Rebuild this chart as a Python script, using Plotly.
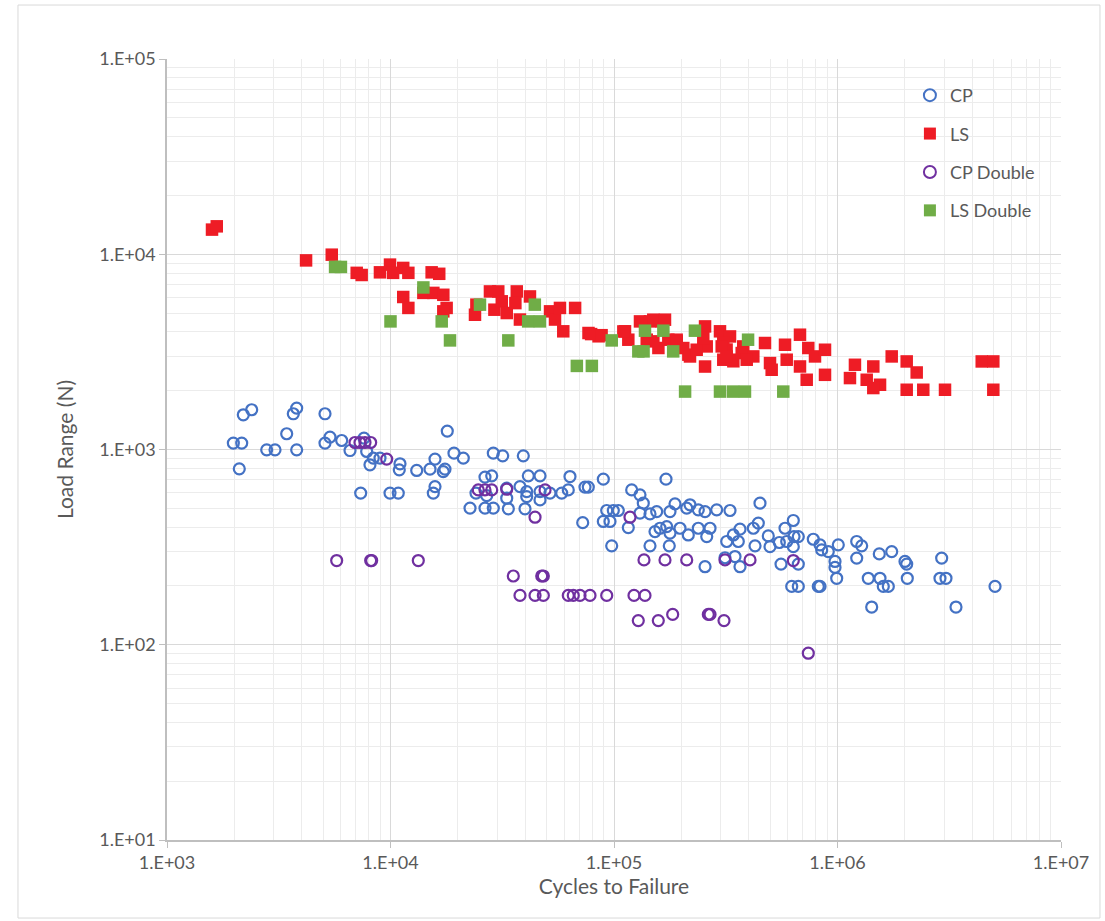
import plotly.graph_objects as go

# ---------------- data ----------------
cp_cycles = [1981, 2159, 2195, 2393, 2106, 2793, 3043, 3432, 3804, 3674, 3804, 5092, 5092, 5362,
             6048, 6590, 7609, 7824, 8094, 8375, 8974, 11027, 10948, 13100, 15023, 15817, 17528,
             17224, 17949, 19233, 21173, 28840, 7356, 9949, 10835, 15817, 15542, 22690, 24130,
             26471, 28840, 26471, 28373, 26938,
             31770, 39283, 41362, 46672, 63538, 89577, 170870, 33115, 37967, 40683, 46672, 51720,
             58345, 62436, 74170, 76740, 120000, 130700, 135230, 33670, 39977, 46672, 33115, 40683,
             92770, 99290, 104520, 89577, 95960, 72444, 115870, 97660, 130700, 144900, 155240,
             178050, 187450, 211500, 218780, 238340, 255430, 288070, 330390, 152560, 160620,
             172100, 197370, 178050, 215000, 238340, 268920, 259960, 144900, 176750, 319370,
             341830, 366240, 359890, 420150, 427550, 442320, 255430, 313780, 347860, 366240,
             450000, 490180, 498900, 549140, 582350, 634260, 638940, 667830, 634260, 592640,
             558830, 667830, 623960, 667830, 779230, 835000, 849730, 909560, 1008300, 974550,
             974550, 991800, 820460, 835000, 1218800, 1282900, 1218800, 1373100, 1549400,
             1602800, 1688000, 1538100, 1748100, 2004600, 2040000, 2052700, 2924700, 2874000,
             3057600, 5068000, 1422200, 3389500]
cp_load = [1079, 1079, 1506, 1598, 796, 996, 996, 1204, 996, 1524, 1630, 1524, 1079, 1158,
           1112, 988, 1144, 977, 835, 904, 904, 845, 787, 781, 793, 893, 793,
           771, 1243, 958, 904, 958, 598, 598, 598, 646, 598, 501, 598,
           501, 501, 722, 733, 580,
           928, 928, 733, 733, 727, 705, 705, 634, 646, 609, 609, 598,
           598, 621, 642, 642, 621, 586, 531, 497, 497, 552, 563, 574,
           487, 487, 487, 428, 428, 422, 398, 321, 472, 468, 481,
           481, 527, 501, 521, 491, 481, 491, 487, 380, 395,
           403, 395, 373, 365, 395, 395, 358, 321, 321, 338,
           365, 391, 338, 395, 321, 420, 251, 279, 283, 251,
           531, 361, 318, 334, 395, 433, 358, 358, 318, 338,
           259, 259, 199, 199, 347, 325, 306, 300, 325, 267,
           249, 219, 199, 199, 338, 321, 278, 219, 219,
           199, 199, 292, 300, 267, 259, 219, 278, 219,
           219, 199, 156, 156]

ls_cycles = [1590, 1670, 4190, 5460, 7060, 7430, 8970, 9950, 10270, 11400, 12020, 15280, 16520,
             11400, 12020, 14030, 15550, 17230, 17830, 17230,
             23880, 24230, 27860, 30350, 29170, 31470, 33130, 36730, 36200, 37940, 42070,
             51740, 54460, 57300, 59300, 66990, 76900, 85300, 112000, 115900, 130700, 144900,
             163400, 150000, 158000, 190700, 215100, 255500, 255500, 298000, 319000, 342000,
             330400, 259900, 308300, 308300, 336200, 378800, 420100, 473800, 498900, 507600,
             582300, 592600, 679500, 679500, 740100, 728100, 793100, 879300, 879300,
             1197000, 1137000, 1446000, 1351000, 1550000, 1446000, 1748000, 2040000, 2040000,
             2261000, 2420000, 3027000, 4419000, 4979000, 4979000,
             110100, 149900, 169100, 140100, 175000, 190700, 204200, 218780, 234400, 250900,
             303300, 319370, 372700, 392500, 79000, 88000]
ls_load = [13370, 13900, 9300, 9950, 8030, 7830, 8080, 8850, 8030, 8510, 8030, 8080, 7940,
           6040, 5310, 6340, 6340, 6200, 5310, 5100,
           4900, 5520, 6450, 6450, 5200, 5740, 5000, 6450, 5620, 4630, 6080,
           5100, 4630, 5310, 4030, 5310, 3950, 3800, 4030, 3650, 4530, 4530,
           4530, 3580, 3310, 3650, 3060, 4270, 2660, 4030, 3250, 2830,
           3794, 3372, 3511, 2883, 2883, 3372, 2997, 3511, 2771, 2561,
           3440, 2883, 3872, 2662, 3310, 2276, 2997, 3243, 2413,
           2716, 2322, 2662, 2276, 2146, 2064, 2997, 2825, 2023,
           2480, 2023, 2023, 2825, 2825, 2023,
           4023, 4622, 4622, 3650, 3650, 3577, 3308, 2996, 3243, 3724,
           3373, 2996, 3119, 2883, 3900, 3850]

cpd_cycles = [6937, 7302, 7688, 8152, 9616, 5744, 8152, 8236, 13317, 24703, 26471, 28373, 33115,
              49142, 44325, 117920, 35434, 47496, 48290, 37967, 44325, 48290, 62436, 65740,
              70450, 78095, 92770, 122880, 137600, 136200, 169100, 211500, 313780, 406090,
              634260, 128440, 157840, 183050, 264250, 268920, 310590, 740240]
cpd_load = [1086, 1086, 1086, 1086, 893, 270, 270, 270, 270, 621, 621, 621, 626,
            621, 450, 450, 225, 225, 225, 179, 179, 179, 179, 179,
            179, 179, 179, 179, 179, 272, 272, 272, 272, 272,
            270, 133, 133, 143, 143, 143, 133, 90.5]

lsd_cycles = [5650, 6000, 14030, 10000, 16950, 18460, 25140, 33660, 44230, 41300, 46600, 68200,
              79600, 97700, 137600, 166300, 128500, 135600, 184000, 230200, 208000, 298000,
              340700, 385500, 398000, 572000]
lsd_load = [8610, 8610, 6760, 4530, 4530, 3620, 5520, 3620, 5520, 4530, 4530, 2680,
            2680, 3620, 4060, 4060, 3180, 3180, 3180, 4060, 1980, 1980,
            1980, 1980, 3650, 1980]

x_ticks = [1e3, 1e4, 1e5, 1e6, 1e7]
x_labels = ["1.E+03", "1.E+04", "1.E+05", "1.E+06", "1.E+07"]
y_ticks = [1e1, 1e2, 1e3, 1e4, 1e5]
y_labels = ["1.E+01", "1.E+02", "1.E+03", "1.E+04", "1.E+05"]

x_minor = [m * 10 ** e for e in range(3, 7) for m in range(2, 10)]
y_minor = [m * 10 ** e for e in range(1, 5) for m in range(2, 10)]

FONT = "Lato, 'Open Sans', sans-serif"
GRAY = "#595959"

fig = go.Figure()
fig.add_trace(go.Scatter(x=cp_cycles, y=cp_load, mode="markers", name="CP", legendgroup="a",
                         marker=dict(symbol="circle-open", size=11, color="#4472C4",
                                     line=dict(width=2.2, color="#4472C4"))))
fig.add_trace(go.Scatter(x=ls_cycles, y=ls_load, mode="markers", name="LS", legendgroup="b",
                         marker=dict(symbol="square", size=12.5, color="#EE1C25",
                                     line=dict(width=0))))
fig.add_trace(go.Scatter(x=cpd_cycles, y=cpd_load, mode="markers", name="CP Double", legendgroup="c",
                         marker=dict(symbol="circle-open", size=11, color="#7030A0",
                                     line=dict(width=2.2, color="#7030A0"))))
fig.add_trace(go.Scatter(x=lsd_cycles, y=lsd_load, mode="markers", name="LS Double", legendgroup="d",
                         marker=dict(symbol="square", size=12.5, color="#70AD47",
                                     line=dict(width=0))))

fig.update_layout(
    width=1105, height=921,
    margin=dict(l=167, r=44, t=59, b=81),
    paper_bgcolor="white", plot_bgcolor="white",
    font=dict(family=FONT, color=GRAY, size=18),
    showlegend=True,
    legend=dict(x=0.831, y=0.977, xanchor="left", yanchor="top",
                bgcolor="rgba(255,255,255,0)", font=dict(size=18, color=GRAY),
                tracegroupgap=12, itemsizing="constant"),
    shapes=[dict(type="rect", xref="paper", yref="paper",
                 x0=-0.1667, x1=1.0436, y0=-0.0999, y1=1.0691,
                 line=dict(color="#d9d9d9", width=1), layer="below")],
)

fig.update_xaxes(
    type="log", range=[3, 7],
    tickmode="array", tickvals=x_ticks, ticktext=x_labels,
    showgrid=True, gridcolor="#d9d9d9", gridwidth=1,
    showline=True, linecolor="#bfbfbf", linewidth=1.5,
    ticks="outside", ticklen=6, tickcolor="#bfbfbf",
    tickfont=dict(size=18, color=GRAY, family=FONT),
    minor=dict(tickmode="array", tickvals=x_minor, showgrid=True, gridcolor="#ececec",
               gridwidth=1, ticks=""),
    title=dict(text="Cycles to Failure", font=dict(size=21, color=GRAY, family=FONT), standoff=3),
    zeroline=False,
)
fig.update_yaxes(
    type="log", range=[1, 5],
    tickmode="array", tickvals=y_ticks, ticktext=y_labels,
    showgrid=True, gridcolor="#d9d9d9", gridwidth=1,
    showline=True, linecolor="#bfbfbf", linewidth=1.5,
    ticks="outside", ticklen=6, tickcolor="#bfbfbf",
    tickfont=dict(size=18, color=GRAY, family=FONT),
    minor=dict(tickmode="array", tickvals=y_minor, showgrid=True, gridcolor="#ececec",
               gridwidth=1, ticks=""),
    title=dict(text="Load Range (N)", font=dict(size=21, color=GRAY, family=FONT), standoff=20),
    zeroline=False,
)

fig.write_html("out.html")
